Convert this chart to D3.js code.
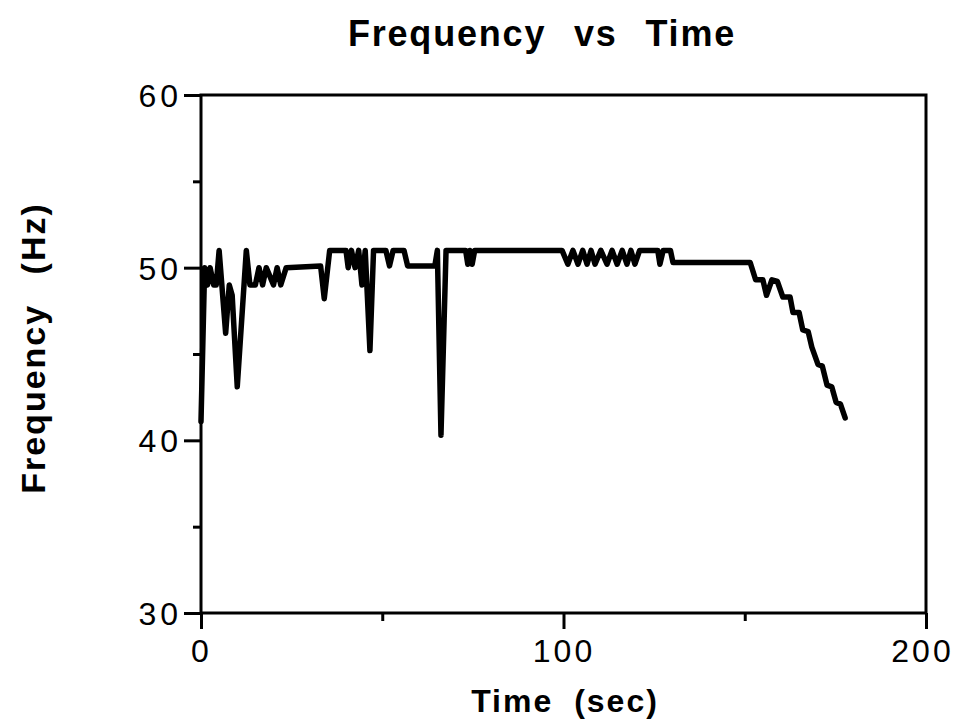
<!DOCTYPE html>
<html>
<head>
<meta charset="utf-8">
<script src="https://cdn.jsdelivr.net/npm/d3@7"></script>
<style>
  body { margin: 0; background: #fff; }
  svg { font-family: "Liberation Sans", Arial, sans-serif; }
</style>
</head>
<body>
<div id="chart"></div>
<script>
(function() {
  'use strict';

  // time in seconds, frequency in Hz
  var timeSec = [0, 1, 1.8, 2.5, 3.5, 4.2, 5, 6.8, 7.8, 8.6, 10, 12.5, 13.5, 15, 16, 17, 18, 20, 21, 22, 23.5,
    33, 34, 35.5, 40, 40.6, 41.5, 42.5, 43.5, 44.4, 45.3, 46.6, 47.6, 51, 52, 53, 56, 57, 64.5, 65.2, 66.2, 67.6,
    73, 73.6, 74.2, 74.8, 75.5, 99.6,
    101.2, 102.6, 104, 105.3, 106.5, 107.6, 108.7, 110.3, 112, 113.4, 114.8, 116.2, 117.5, 118.6, 119.7, 121,
    126, 126.6, 127.5, 129.5, 130.2, 131, 151.5,
    153, 155, 156, 157.5, 159, 160.5, 162.5, 163.3, 165, 166, 167.5, 168.5, 170.2, 171.4, 172.7, 174, 175.2, 176.4, 177.7];
  var freqHz = [41.1, 50, 49, 50, 49, 49, 51, 46.2, 49, 48.4, 43.1, 51, 49, 49, 50, 49, 50, 49, 50, 49, 50,
    50.1, 48.2, 51, 51, 50, 51, 50, 51, 49, 51, 45.2, 51, 51, 50.1, 51, 51, 50.1, 50.1, 51, 40.3, 51,
    51, 50.2, 51, 50.2, 51, 51,
    50.2, 51, 50.2, 51, 50.2, 51, 50.2, 51, 50.2, 51, 50.2, 51, 50.2, 51, 50.2, 51,
    51, 50.2, 51, 51, 50.3, 50.3, 50.3,
    49.3, 49.3, 48.4, 49.3, 49.2, 48.3, 48.3, 47.4, 47.4, 46.4, 46.3, 45.4, 44.4, 44.3, 43.2, 43.1, 42.2, 42.1, 41.3];

  var xTicks = [0, 100, 200];
  var xMinor = [50, 150];
  var yTicks = [30, 40, 50, 60];
  var yMinor = [35, 45, 55];

  var width = 958, height = 727;
  var margin = {left: 201, right: 32, top: 95, bottom: 114};

  var svg = d3.select('#chart').append('svg')
    .attr('width', width)
    .attr('height', height);

  var x = d3.scaleLinear().domain([0, 200]).range([margin.left, width - margin.right]);
  var y = d3.scaleLinear().domain([30, 60]).range([height - margin.bottom, margin.top]);

  // frame
  svg.append('rect')
    .attr('x', x(0)).attr('y', y(60))
    .attr('width', x(200) - x(0)).attr('height', y(30) - y(60))
    .attr('fill', 'none').attr('stroke', '#000').attr('stroke-width', 3);

  // axes
  var yAxis = svg.append('g').attr('transform', 'translate(' + x(0) + ',0)')
    .call(d3.axisLeft(y).tickValues(yTicks).tickSize(17).tickPadding(2).tickFormat(d3.format('d')));
  svg.append('g').attr('transform', 'translate(' + x(0) + ',0)')
    .call(d3.axisLeft(y).tickValues(yMinor).tickSize(8).tickFormat(''));
  var xAxis = svg.append('g').attr('transform', 'translate(0,' + y(30) + ')')
    .call(d3.axisBottom(x).tickValues(xTicks).tickSize(16).tickPadding(6).tickFormat(d3.format('d')));
  svg.append('g').attr('transform', 'translate(0,' + y(30) + ')')
    .call(d3.axisBottom(x).tickValues(xMinor).tickSize(8).tickFormat(''));

  svg.selectAll('.domain').remove();
  svg.selectAll('.tick line').attr('stroke', '#000').attr('stroke-width', 3);
  svg.selectAll('.tick text')
    .attr('fill', '#000')
    .style('font-family', '"Liberation Sans", Arial, sans-serif')
    .style('font-size', '32px')
    .style('letter-spacing', '4px');
  xAxis.selectAll('.tick text').attr('dy', '0.85em')
    .style('letter-spacing', '3px');
  xAxis.selectAll('.tick text').filter(function(d) { return d === 200; }).attr('dx', '-4px');
  yAxis.selectAll('.tick text').attr('dy', '0.36em');

  // line
  var pts = timeSec.map(function(t, i) { return [t, freqHz[i]]; });
  var line = d3.line()
    .x(function(d) { return x(d[0]); })
    .y(function(d) { return y(d[1]); });
  svg.append('path')
    .datum(pts)
    .attr('d', line)
    .attr('fill', 'none')
    .attr('stroke', '#000')
    .attr('stroke-width', 5.5)
    .attr('stroke-linejoin', 'round')
    .attr('stroke-linecap', 'round');

  // titles
  svg.append('text')
    .attr('x', 542).attr('y', 46)
    .attr('text-anchor', 'middle')
    .style('font-size', '36px').style('font-weight', 'bold')
    .style('letter-spacing', '1.8px')
    .style('word-spacing', '16px')
    .text('Frequency vs Time');

  svg.append('text')
    .attr('x', 565).attr('y', 712)
    .attr('text-anchor', 'middle')
    .style('font-size', '32px').style('font-weight', 'bold')
    .style('letter-spacing', '2px')
    .style('word-spacing', '10px')
    .text('Time (sec)');

  svg.append('text')
    .attr('transform', 'translate(45,348) rotate(-90)')
    .attr('text-anchor', 'middle')
    .style('font-size', '34px').style('font-weight', 'bold')
    .style('letter-spacing', '2px')
    .style('word-spacing', '18px')
    .text('Frequency (Hz)');
})();
</script>
</body>
</html>
